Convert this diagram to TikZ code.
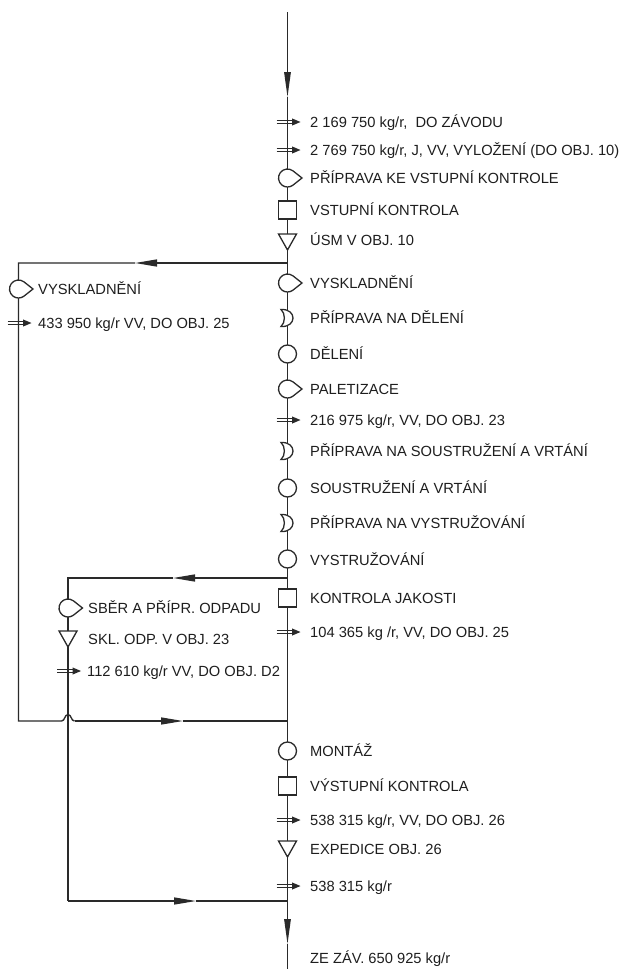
\documentclass[tikz,border=0pt]{standalone}
\usepackage{fontspec}
\setmainfont{Liberation Sans}
\usetikzlibrary{arrows.meta}
\definecolor{ink}{HTML}{2A2A2A}
\definecolor{txt}{HTML}{1E1E1E}
\tikzset{
  flow/.style={draw=ink, line width=1.35pt},
  harr/.style={-{Triangle[length=22pt,width=7pt]}},
  varr/.style={-{Triangle[length=25pt,width=6.5pt]}},
  sym/.style={draw=ink, fill=white, line width=1.3pt},
  lbl/.style={anchor=west, inner sep=0pt, text height=10.6pt, text depth=0pt,
    font=\fontsize{14.7}{17}\selectfont, text=txt},
  pics/drop/.style={code={\path[sym] (52.6:9pt) arc[start angle=52.6,end angle=307.4,radius=9pt] -- (14.5pt,0pt) -- cycle;}},
  pics/moon/.style={code={\path[sym] (-6.5pt,8.5pt) .. controls (9.5pt,9.5pt) and (9.5pt,-9.5pt) .. (-6.5pt,-8.5pt) .. controls (-2pt,-5pt) and (-2pt,5pt) .. cycle;}},
  pics/circ/.style={code={\path[sym] (0pt,0pt) circle[radius=9pt];}},
  pics/box/.style={code={\path[sym] (-9pt,-9pt) rectangle (9pt,9pt);}},
  pics/tri/.style={code={\path[sym] (-9pt,8pt) -- (9pt,8pt) -- (0pt,-8pt) -- cycle;}},
  pics/transport/.style={code={
    \draw[ink,line width=1.1pt] (-11pt,1.8pt) -- (6pt,1.8pt) (-11pt,-1.8pt) -- (6pt,-1.8pt);
    \fill[ink] (4.5pt,3.6pt) -- (13pt,0pt) -- (4.5pt,-3.6pt) -- cycle;}},
}
\begin{document}
\begin{tikzpicture}[x=1pt,y=-1pt]
\useasboundingbox (0,0) rectangle (620,969);
% junction coordinates
\coordinate (top) at (287.5,12);
\coordinate (a0) at (287.5,97);
\coordinate (br1) at (287.5,263);
\coordinate (br2) at (287.5,578);
\coordinate (j1) at (287.5,721);
\coordinate (j2) at (287.5,901);
\coordinate (a9) at (287.5,944);
\coordinate (bot) at (287.5,969);
\coordinate (L1t) at (18.5,263);
\coordinate (L1b) at (18.5,721);
\coordinate (L2t) at (68,578);
\coordinate (L2b) at (68,901);
\coordinate (ar1) at (135,263);
\coordinate (ar2) at (173,578);
\coordinate (ar3) at (183,721);
\coordinate (ar4) at (196,901);
\coordinate (h1) at (61.5,721);
\coordinate (h2) at (74.5,721);
% main line
\draw[flow,varr] (top) -- (a0);
\draw[flow] (a0) -- (br1) -- (br2) -- (j1) -- (j2);
\draw[flow,varr] (j2) -- (a9);
\draw[flow] (a9) -- (bot);
% left loop 1
\draw[flow,harr] (br1) -- (ar1);
\draw[flow] (ar1) -- (L1t) -- (L1b) -- (h1) .. controls (65,721) and (64.5,714.5) .. (68,714.5) .. controls (71.5,714.5) and (71,721) .. (h2);
\draw[flow,harr] (h2) -- (ar3);
\draw[flow] (ar3) -- (j1);
% left loop 2
\draw[flow,harr] (br2) -- (ar2);
\draw[flow] (ar2) -- (L2t) -- (L2b);
\draw[flow,harr] (L2b) -- (ar4);
\draw[flow] (ar4) -- (j2);
% symbols on main line
\pic at (287.5,122) {transport};
\pic at (287.5,150) {transport};
\pic at (287.5,178) {drop};
\pic at (287.5,210) {box};
\pic at (287.5,242) {tri};
\pic at (287.5,283) {drop};
\pic at (287.5,318) {moon};
\pic at (287.5,354) {circ};
\pic at (287.5,389) {drop};
\pic at (287.5,420) {transport};
\pic at (287.5,451) {moon};
\pic at (287.5,488) {circ};
\pic at (287.5,523) {moon};
\pic at (287.5,559) {circ};
\pic at (287.5,598) {box};
\pic at (287.5,632) {transport};
\pic at (287.5,751) {circ};
\pic at (287.5,786) {box};
\pic at (287.5,820) {transport};
\pic at (287.5,849) {tri};
\pic at (287.5,886) {transport};
% symbols on left lines
\pic at (18.5,289) {drop};
\pic at (18.5,323) {transport};
\pic at (68,608) {drop};
\pic at (68,639) {tri};
\pic at (68,671) {transport};
% labels
\node[lbl] (n1) at (310,122) {2 169 750 kg/r,\ \ DO ZÁVODU};
\node[lbl] (n2) at (310,150) {2 769 750 kg/r, J, VV, VYLOŽENÍ (DO OBJ. 10)};
\node[lbl] (n3) at (310,178) {PŘÍPRAVA KE VSTUPNÍ KONTROLE};
\node[lbl] (n4) at (310,210) {VSTUPNÍ KONTROLA};
\node[lbl] (n5) at (310,240) {ÚSM V OBJ. 10};
\node[lbl] (n6) at (310,283) {VYSKLADNĚNÍ};
\node[lbl] (n7) at (310,318) {PŘÍPRAVA NA DĚLENÍ};
\node[lbl] (n8) at (310,354) {DĚLENÍ};
\node[lbl] (n9) at (310,389) {PALETIZACE};
\node[lbl] (n10) at (310,420) {216 975 kg/r, VV, DO OBJ. 23};
\node[lbl] (n11) at (310,451) {PŘÍPRAVA NA SOUSTRUŽENÍ A VRTÁNÍ};
\node[lbl] (n12) at (310,488) {SOUSTRUŽENÍ A VRTÁNÍ};
\node[lbl] (n13) at (310,523) {PŘÍPRAVA NA VYSTRUŽOVÁNÍ};
\node[lbl] (n14) at (310,560) {VYSTRUŽOVÁNÍ};
\node[lbl] (n15) at (310,598) {KONTROLA JAKOSTI};
\node[lbl] (n16) at (310,632) {104 365 kg /r, VV, DO OBJ. 25};
\node[lbl] (n17) at (310,751) {MONTÁŽ};
\node[lbl] (n18) at (310,786) {VÝSTUPNÍ KONTROLA};
\node[lbl] (n19) at (310,820) {538 315 kg/r, VV, DO OBJ. 26};
\node[lbl] (n20) at (310,849) {EXPEDICE OBJ. 26};
\node[lbl] (n21) at (310,886) {538 315 kg/r};
\node[lbl] (n22) at (310,958) {ZE ZÁV. 650 925 kg/r};
\node[lbl] (m1) at (38,289) {VYSKLADNĚNÍ};
\node[lbl] (m2) at (38,323) {433 950 kg/r VV, DO OBJ. 25};
\node[lbl] (k1) at (88,608) {SBĚR A PŘÍPR. ODPADU};
\node[lbl] (k2) at (88,639) {SKL. ODP. V OBJ. 23};
\node[lbl] (k3) at (87,671) {112 610 kg/r VV, DO OBJ. D2};
\end{tikzpicture}
\end{document}
